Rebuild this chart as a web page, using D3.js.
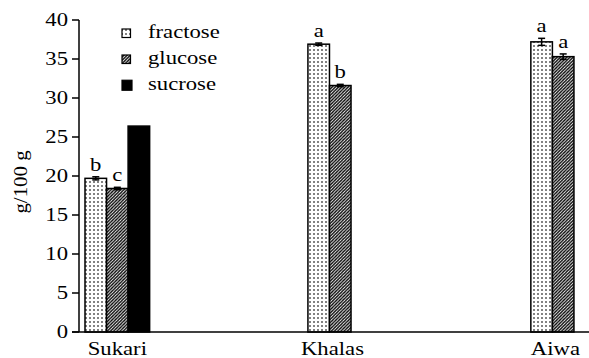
<!DOCTYPE html>
<html><head><meta charset="utf-8">
<script src="https://cdn.jsdelivr.net/npm/d3@7"></script>
<style>
body{margin:0;background:#fff;}
svg{display:block;}
</style></head>
<body>
<svg id="chart" width="589" height="358"></svg>
<script>
// ---- data ----
const categories = ["Sukari", "Khalas", "Aiwa"];
const series = ["fractose", "glucose", "sucrose"];
const fractose = [19.7, 36.9, 37.2];
const glucose = [18.4, 31.6, 35.3];
const sucrose = [26.4, null, null];
const fractoseErr = [0.2, 0.15, 0.45];
const glucoseErr = [0.15, 0.15, 0.35];
const sucroseErr = [0, null, null];
const fractoseLetters = ["b", "a", "a"];
const glucoseLetters = ["c", "b", "a"];
const sucroseLetters = ["", "", ""];
const yTicks = [0, 5, 10, 15, 20, 25, 30, 35, 40];
const yLabel = "g/100 g";

const values = {fractose, glucose, sucrose};
const errs = {fractose: fractoseErr, glucose: glucoseErr, sucrose: sucroseErr};
const letters = {fractose: fractoseLetters, glucose: glucoseLetters, sucrose: sucroseLetters};

const svg = d3.select("#chart");
const FONT = '"Liberation Serif","Times New Roman",serif';
const FS = 18;
const SX = 1.26; // horizontal glyph stretch seen in the reference

// patterns
const defs = svg.append("defs");
const pd = defs.append("pattern").attr("id","dots").attr("patternUnits","userSpaceOnUse")
  .attr("width",4).attr("height",4);
pd.append("rect").attr("width",4).attr("height",4).attr("fill","#fff");
pd.append("rect").attr("x",1.3).attr("y",1.3).attr("width",1.4).attr("height",1.4).attr("fill","#000");
const ph = defs.append("pattern").attr("id","hatch").attr("patternUnits","userSpaceOnUse")
  .attr("width",3.2).attr("height",3.2);
ph.append("rect").attr("width",3.2).attr("height",3.2).attr("fill","#fff");
ph.append("path").attr("d","M-0.8,0.8 L0.8,-0.8 M0,3.2 L3.2,0 M2.4,4 L4,2.4")
  .attr("stroke","#000").attr("stroke-width",1.3);
const fills = {fractose:"url(#dots)", glucose:"url(#hatch)", sucrose:"#000"};

// scales
const y = d3.scaleLinear().domain([0,40]).range([332,20]);
const x0 = d3.scaleBand().domain(categories).range([85, 595.5]).paddingInner(0.71).paddingOuter(0);
const x1 = d3.scaleBand().domain(series).range([0, x0.bandwidth()]);

function stext(g, x, yy, txt, anchor){
  return g.append("text")
    .attr("transform",`translate(${x},${yy}) scale(${SX},1)`)
    .attr("text-anchor", anchor || "middle")
    .attr("font-size", FS)
    .style("font-family", FONT)
    .attr("fill", "#000")
    .text(txt);
}

// bars
const barG = svg.append("g");
categories.forEach((c, i) => {
  series.forEach(s => {
    const v = values[s][i];
    if (v == null) return;
    const bx = x0(c) + x1(s);
    const bw = x1.bandwidth();
    barG.append("rect")
      .attr("x", bx).attr("y", y(v))
      .attr("width", bw).attr("height", y(0) - y(v))
      .attr("fill", fills[s]).attr("stroke","#000").attr("stroke-width",1.5);
    const e = errs[s][i];
    const cx = bx + bw/2;
    if (e) {
      barG.append("line").attr("x1",cx).attr("x2",cx).attr("y1",y(v+e)).attr("y2",y(v-e))
        .attr("stroke","#000").attr("stroke-width",1.5);
      [v+e, v-e].forEach(t => barG.append("line").attr("x1",cx-3.5).attr("x2",cx+3.5)
        .attr("y1",y(t)).attr("y2",y(t)).attr("stroke","#000").attr("stroke-width",1.5));
    }
    const L = letters[s][i];
    if (L) stext(barG, cx, y(v + (e||0)) - 6, L);
  });
});

// y axis
const ax = svg.append("g");
ax.append("line").attr("x1",79).attr("x2",79).attr("y1",y(40)).attr("y2",y(0))
  .attr("stroke","#000").attr("stroke-width",1.5);
yTicks.forEach(t => {
  ax.append("line").attr("x1",72).attr("x2",79).attr("y1",y(t)).attr("y2",y(t))
    .attr("stroke","#000").attr("stroke-width",1.5);
  stext(ax, 68, y(t) + 6, String(t), "end");
});
// x axis line
ax.append("line").attr("x1",72).attr("x2",589).attr("y1",y(0)).attr("y2",y(0))
  .attr("stroke","#000").attr("stroke-width",1.5);

// category labels (centred on drawn bars)
categories.forEach((c, i) => {
  const present = series.filter(s => values[s][i] != null);
  const left = x0(c) + x1(present[0]);
  const right = x0(c) + x1(present[present.length-1]) + x1.bandwidth();
  stext(ax, (left + right)/2 + (present.length < 3 ? 3 : 0), 355, c);
});

// y label
svg.append("text")
  .attr("transform","translate(27,182) rotate(-90) scale(1.16,1)")
  .attr("text-anchor","middle").attr("font-size",FS)
  .style("font-family", FONT).attr("fill","#000").text(yLabel);

// legend
const lg = svg.append("g");
series.forEach((s, i) => {
  const yy = 38 + i*26;
  const sz = s === "sucrose" ? 10 : 8.5;
  lg.append("rect").attr("x",122).attr("y",yy - 9 - (sz-8.5)/2).attr("width",sz).attr("height",sz)
    .attr("fill",fills[s]).attr("stroke","#000").attr("stroke-width",1.2);
  stext(lg, 148, yy, s, "start");
});
</script>
</body></html>
